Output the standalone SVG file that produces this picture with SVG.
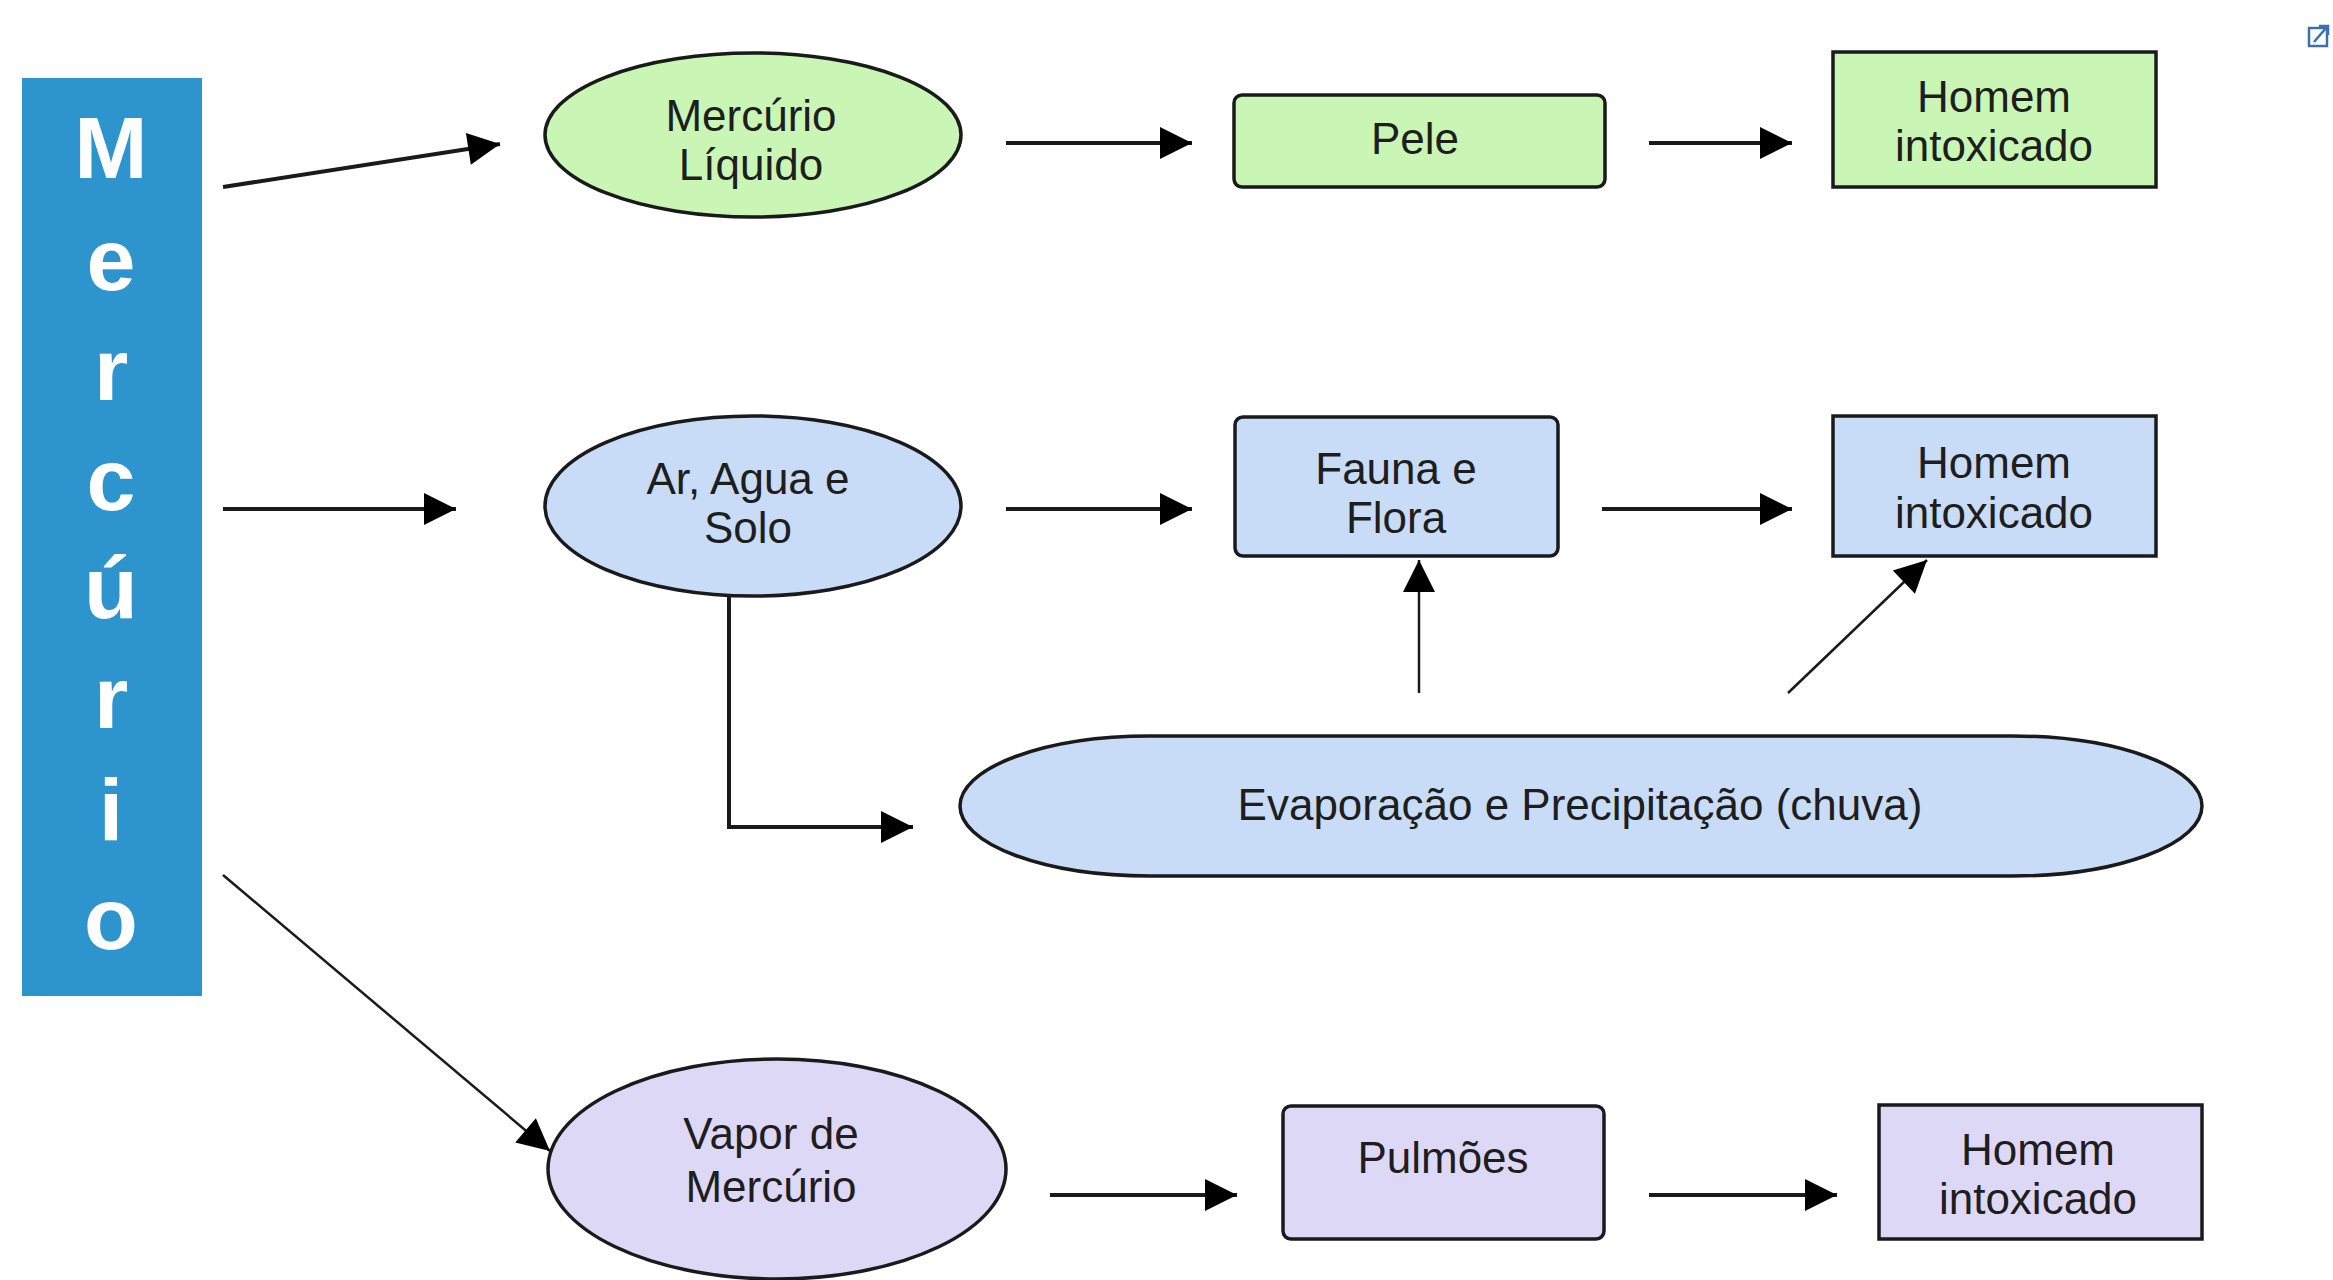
<svg xmlns="http://www.w3.org/2000/svg" width="2333" height="1280" viewBox="0 0 2333 1280">
<style>
.lbl{font-family:"Liberation Sans",Arial,sans-serif;font-size:44px;fill:#1e1e1e;text-anchor:middle}
.side{font-family:"Liberation Sans",Arial,sans-serif;font-size:88px;font-weight:bold;fill:#ffffff;text-anchor:middle}
.ln{stroke:#1a1a1a;stroke-width:4;fill:none}
.thin{stroke:#1a1a1a;stroke-width:2.5;fill:none}
.node{stroke:#1a1a1a;stroke-width:3.5}
.green{fill:#c9f5b5}
.blue{fill:#c8dcf7}
.lav{fill:#ded8f7}
</style>
<defs>
<marker id="ah" markerUnits="userSpaceOnUse" markerWidth="36" markerHeight="36" viewBox="0 0 36 36" refX="34" refY="18" orient="auto">
<path d="M2,2 L34,18 L2,34 Z" fill="#000"/>
</marker>
</defs>
<rect width="2333" height="1280" fill="#ffffff"/>

<g id="mercurio">
<rect x="22" y="78" width="180" height="918" fill="#2e94cd"/>
<text class="side" x="111" y="178">M</text>
<text class="side" x="111" y="290">e</text>
<text class="side" x="111" y="400">r</text>
<text class="side" x="111" y="510">c</text>
<text class="side" x="111" y="618">ú</text>
<text class="side" x="111" y="728">r</text>
<text class="side" x="111" y="840">i</text>
<text class="side" x="111" y="949">o</text>
</g>

<g id="connectors">
<line class="ln" x1="223" y1="187" x2="500" y2="144" marker-end="url(#ah)"/>
<line class="ln" x1="1006" y1="143" x2="1192" y2="143" marker-end="url(#ah)"/>
<line class="ln" x1="1649" y1="143" x2="1792" y2="143" marker-end="url(#ah)"/>
<line class="ln" x1="223" y1="509" x2="456" y2="509" marker-end="url(#ah)"/>
<line class="ln" x1="1006" y1="509" x2="1192" y2="509" marker-end="url(#ah)"/>
<line class="ln" x1="1602" y1="509" x2="1792" y2="509" marker-end="url(#ah)"/>
<line class="thin" x1="1419" y1="693" x2="1419" y2="560" marker-end="url(#ah)"/>
<line class="thin" x1="1788" y1="693" x2="1927" y2="560" marker-end="url(#ah)"/>
<polyline class="ln" points="729,597 729,827 913,827" marker-end="url(#ah)"/>
<line class="thin" x1="223" y1="875" x2="550" y2="1151" marker-end="url(#ah)"/>
<line class="ln" x1="1050" y1="1195" x2="1237" y2="1195" marker-end="url(#ah)"/>
<line class="ln" x1="1649" y1="1195" x2="1837" y2="1195" marker-end="url(#ah)"/>
</g>

<g id="mercurio-liquido">
<ellipse class="node green" cx="753" cy="135" rx="208" ry="82"/>
<text class="lbl" x="751" y="131">Mercúrio</text>
<text class="lbl" x="751" y="180">Líquido</text>
</g>
<g id="pele">
<rect class="node green" x="1234" y="95" width="371" height="92" rx="8"/>
<text class="lbl" x="1415" y="154">Pele</text>
</g>
<g id="homem1">
<rect class="node green" x="1833" y="52" width="323" height="135"/>
<text class="lbl" x="1994" y="112">Homem</text>
<text class="lbl" x="1994" y="161">intoxicado</text>
</g>

<g id="ar-agua-solo">
<ellipse class="node blue" cx="753" cy="506" rx="208" ry="90"/>
<text class="lbl" x="748" y="494">Ar, Agua e</text>
<text class="lbl" x="748" y="543">Solo</text>
</g>
<g id="fauna-flora">
<rect class="node blue" x="1235" y="417" width="323" height="139" rx="8"/>
<text class="lbl" x="1396" y="484">Fauna e</text>
<text class="lbl" x="1396" y="533">Flora</text>
</g>
<g id="homem2">
<rect class="node blue" x="1833" y="416" width="323" height="140"/>
<text class="lbl" x="1994" y="478">Homem</text>
<text class="lbl" x="1994" y="528">intoxicado</text>
</g>
<g id="evaporacao">
<path class="node blue" d="M1150,736 L2012,736 A190,70 0 0 1 2012,876 L1150,876 A190,70 0 0 1 1150,736 Z"/>
<text class="lbl" x="1580" y="820">Evaporação e Precipitação (chuva)</text>
</g>

<g id="vapor">
<ellipse class="node lav" cx="777" cy="1169" rx="229" ry="110"/>
<text class="lbl" x="771" y="1149">Vapor de</text>
<text class="lbl" x="771" y="1202">Mercúrio</text>
</g>
<g id="pulmoes">
<rect class="node lav" x="1283" y="1106" width="321" height="133" rx="8"/>
<text class="lbl" x="1443" y="1173">Pulmões</text>
</g>
<g id="homem3">
<rect class="node lav" x="1879" y="1105" width="323" height="134"/>
<text class="lbl" x="2038" y="1165">Homem</text>
<text class="lbl" x="2038" y="1214">intoxicado</text>
</g>

<g id="link-icon" fill="none" stroke="#3b6fb0" stroke-width="2.5">
<rect x="2309" y="28" width="18" height="18"/>
<path d="M2314,42 L2326,28 M2319,26 L2328,26 L2328,35"/>
</g>
</svg>
